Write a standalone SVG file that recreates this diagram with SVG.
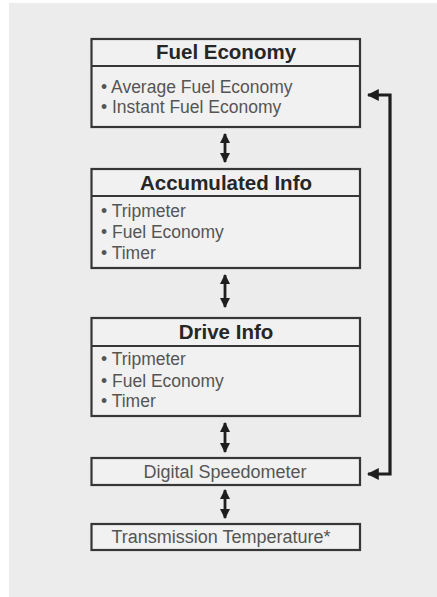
<svg xmlns="http://www.w3.org/2000/svg" width="437" height="597" viewBox="0 0 437 597">
<defs>
<style>
.box{fill:#f1f1f1;stroke:#363636;stroke-width:2.2}
.sep{stroke:#363636;stroke-width:1.8}
.title{font-family:"Liberation Sans",Arial,sans-serif;font-weight:bold;font-size:20.5px;fill:#262626;text-anchor:middle}
.item{font-family:"Liberation Sans",Arial,sans-serif;font-size:17.5px;fill:#555555}
.label{font-family:"Liberation Sans",Arial,sans-serif;font-size:18px;fill:#555555;text-anchor:middle}
.conn{fill:none;stroke:#1e1e1e;stroke-width:2.8}
.loop{fill:none;stroke:#1e1e1e;stroke-width:3.2}
</style>
<marker id="ah" viewBox="0 0 10 10" refX="9" refY="5" markerWidth="10.5" markerHeight="10.5" markerUnits="userSpaceOnUse" orient="auto-start-reverse">
<path d="M0,0 L10,5 L0,10 Z" fill="#1e1e1e"/>
</marker>
<marker id="ah2" viewBox="0 0 10 10" refX="9" refY="5" markerWidth="12" markerHeight="12" markerUnits="userSpaceOnUse" orient="auto-start-reverse">
<path d="M0,0 L10,5 L0,10 Z" fill="#1e1e1e"/>
</marker>
</defs>
<rect x="0" y="0" width="437" height="597" fill="#ffffff"/>
<rect x="9" y="3" width="428" height="594" fill="#ececec"/>

<g id="fuel-economy">
<rect class="box" x="91.5" y="39" width="268.5" height="88"/>
<line class="sep" x1="91.5" y1="66" x2="360" y2="66"/>
<text class="title" x="226" y="59">Fuel Economy</text>
<text class="item" x="101" y="93">• Average Fuel Economy</text>
<text class="item" x="101" y="113">• Instant  Fuel Economy</text>
</g>

<g id="accumulated-info">
<rect class="box" x="91.5" y="169" width="268.5" height="99"/>
<line class="sep" x1="91.5" y1="196" x2="360" y2="196"/>
<text class="title" x="226" y="189.5">Accumulated Info</text>
<text class="item" x="101" y="217">• Tripmeter</text>
<text class="item" x="101" y="238">• Fuel Economy</text>
<text class="item" x="101" y="259">• Timer</text>
</g>

<g id="drive-info">
<rect class="box" x="91.5" y="318" width="268.5" height="98"/>
<line class="sep" x1="91.5" y1="346" x2="360" y2="346"/>
<text class="title" x="226" y="339">Drive Info</text>
<text class="item" x="101" y="365">• Tripmeter</text>
<text class="item" x="101" y="387">• Fuel Economy</text>
<text class="item" x="101" y="407">• Timer</text>
</g>

<g id="digital-speedometer">
<rect class="box" x="91.5" y="458" width="268.5" height="27"/>
<text class="label" x="225" y="477.5">Digital Speedometer</text>
</g>

<g id="transmission-temperature">
<rect class="box" x="91.5" y="524" width="268.5" height="26"/>
<text class="label" x="221" y="542.5">Transmission Temperature*</text>
</g>

<g id="connectors">
<line class="conn" x1="225" y1="134" x2="225" y2="162" marker-start="url(#ah)" marker-end="url(#ah)"/>
<line class="conn" x1="225" y1="275" x2="225" y2="307" marker-start="url(#ah)" marker-end="url(#ah)"/>
<line class="conn" x1="225" y1="423" x2="225" y2="452" marker-start="url(#ah)" marker-end="url(#ah)"/>
<line class="conn" x1="225" y1="490" x2="225" y2="518" marker-start="url(#ah)" marker-end="url(#ah)"/>
<path class="loop" d="M368,95 L390,95 L390,474 L368,474" marker-start="url(#ah2)" marker-end="url(#ah2)"/>
</g>
</svg>
